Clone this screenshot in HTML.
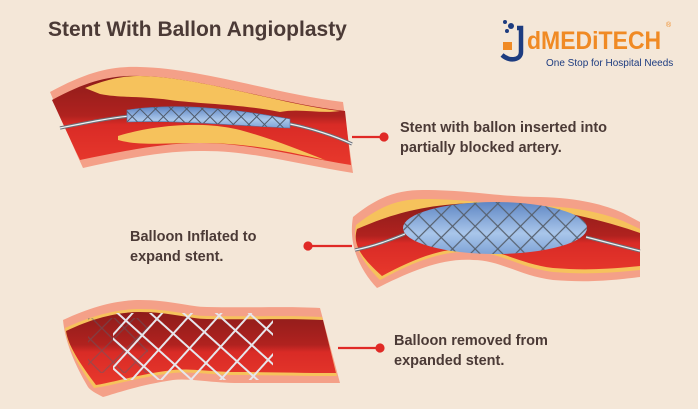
<!DOCTYPE html>
<html><head><meta charset="utf-8"><style>
body{margin:0;width:698px;height:409px;background:#f4e7d8;overflow:hidden;font-family:"Liberation Sans",sans-serif}
.t{position:absolute;color:#4b3a36;font-weight:bold}
</style></head><body>
<svg width="698" height="409" style="position:absolute;left:0;top:0">
<defs>
<pattern id="m1" width="11" height="11" patternUnits="userSpaceOnUse" patternTransform="rotate(45)"><rect width="11" height="11" fill="none" stroke="#4f5a6a" stroke-width="1"/></pattern>
<pattern id="m2" width="16" height="16" patternUnits="userSpaceOnUse" patternTransform="rotate(45)"><rect width="16" height="16" fill="none" stroke="#56606e" stroke-width="1.2"/></pattern>
<pattern id="m3" width="22" height="22" patternUnits="userSpaceOnUse" patternTransform="rotate(42)"><rect width="22" height="22" fill="none" stroke="#e6e6ec" stroke-width="2"/></pattern>
<linearGradient id="bl" x1="0" y1="0" x2="0" y2="1"><stop offset="0" stop-color="#5f86c4"/><stop offset="0.6" stop-color="#a9c6ea"/><stop offset="1" stop-color="#7fa3d6"/></linearGradient>
<linearGradient id="lum" x1="0" y1="0" x2="0" y2="1"><stop offset="0" stop-color="#8e1c1a"/><stop offset="0.45" stop-color="#b0221f"/><stop offset="0.55" stop-color="#d92b26"/><stop offset="1" stop-color="#e8382c"/></linearGradient>
</defs>
<!-- vessel 1 -->
<path d="M50,92 C90,70 115,66 140,67 C200,68 280,95 343,102 L353,173 C300,165 250,150 200,151 C160,151 120,160 83,168 C70,140 60,115 50,92 Z" fill="#f4a088"/>
<path d="M52,100 C90,79 115,75 140,76 C200,77 280,104 345,111 L351,165 C300,157 250,143 200,143 C160,143 120,152 80,160 C68,135 60,117 52,100 Z" fill="url(#lum)"/>
<path d="M85,88 C110,78 125,76 140,76 C200,77 280,104 340,111 C320,114 300,108 280,112 C240,104 200,104 170,100 C140,96 120,98 100,94 Z" fill="#f6c25c"/>
<path d="M118,136 C150,126 200,120 240,130 C270,138 300,150 325,160 C290,152 250,143 200,143 C160,143 140,146 118,140 Z" fill="#f6c25c"/>
<path d="M60,128 C90,122 110,118 130,116 M290,124 C310,128 335,136 352,144" fill="none" stroke="#6c7078" stroke-width="3.2"/>
<path d="M60,128 C90,122 110,118 130,116 M290,124 C310,128 335,136 352,144" fill="none" stroke="#f0f0f2" stroke-width="1.2"/>
<path d="M127,110 C180,102 240,110 290,119 L290,128 C240,126 180,120 127,122 Z" fill="url(#bl)" stroke="#5577aa" stroke-width="0.6"/>
<path d="M127,110 C180,102 240,110 290,119 L290,128 C240,126 180,120 127,122 Z" fill="url(#m1)"/>
<!-- vessel 2 -->
<path d="M353,217 C380,195 400,190 423,190 C470,190 500,197 540,197 C580,198 605,205 623,213 L640,222 L640,277 C600,282 580,282 553,280 C520,276 500,260 473,260 C440,258 410,272 377,288 C360,270 348,245 353,217 Z" fill="#f4a088"/>
<path d="M356,225 C382,204 402,199 423,199 C470,199 500,206 540,206 C580,207 605,214 623,221 L640,229 L640,270 C600,274 580,274 553,272 C520,268 500,252 473,252 C440,250 410,264 380,280 C362,262 352,245 356,225 Z" fill="#f6c25c"/>
<path d="M357,229 C390,215 420,205 473,203 C520,204 580,212 640,233 L640,266 C600,270 580,270 553,268 C520,264 500,249 473,249 C440,247 410,261 382,276 C362,258 352,245 357,229 Z" fill="url(#lum)"/>
<path d="M353,262 C400,252 440,250 473,250 C520,250 600,256 640,258 L640,266 C600,270 580,270 553,268 C520,264 500,252 473,252 C440,250 410,264 382,276 C370,270 360,266 353,262 Z" fill="#f6c25c" opacity="0"/>
<path d="M355,250 C375,246 390,240 405,234 M586,237 C605,242 625,247 640,251" fill="none" stroke="#6c7078" stroke-width="3.2"/>
<path d="M355,250 C375,246 390,240 405,234 M586,237 C605,242 625,247 640,251" fill="none" stroke="#f0f0f2" stroke-width="1.2"/>
<ellipse cx="495" cy="228" rx="92" ry="26" fill="url(#bl)"/>
<ellipse cx="495" cy="228" rx="92" ry="26" fill="url(#m2)"/>
<!-- vessel 3 -->
<path d="M63,320 C95,305 120,300 140,300 C170,300 190,307 207,307 C250,308 290,306 320,308 L340,383 C300,383 270,383 240,383 C210,383 190,378 173,380 C140,385 120,392 103,397 C95,393 90,390 88,387 C75,365 65,342 63,320 Z" fill="#f4a088"/>
<path d="M65,328 C95,314 120,309 140,309 C170,309 190,316 207,316 C250,317 290,315 322,317 L337,376 C300,376 270,375 240,375 C210,375 190,371 173,373 C140,377 115,385 94,388 C79,367 67,346 65,328 Z" fill="#f6c25c"/>
<path d="M66,331 C95,317 120,312 140,312 C170,312 190,319 207,319 C250,320 290,318 323,320 L336,373 C300,373 270,372 240,372 C210,372 190,368 173,370 C140,374 115,382 96,385 C81,365 68,346 66,331 Z" fill="url(#lum)"/>
<rect x="88" y="318" width="60" height="55" fill="url(#m2)" opacity="0.5"/>
<path d="M113,313 L273,313 L273,380 L113,380 Z" fill="url(#m3)"/>
<!-- leaders -->
<g stroke="#e02a26" stroke-width="2.2" fill="#e02a26">
<line x1="352" y1="137" x2="384" y2="137"/><circle cx="384" cy="137" r="3.5"/>
<line x1="308" y1="246" x2="352" y2="246"/><circle cx="308" cy="246" r="3.5"/>
<line x1="338" y1="348" x2="380" y2="348"/><circle cx="380" cy="348" r="3.5"/>
</g>
<!-- logo J -->
<circle cx="505" cy="22" r="2" fill="#1d3c80"/><circle cx="511" cy="26" r="3" fill="#1d3c80"/><circle cx="507" cy="31" r="2" fill="#1d3c80"/>
<path d="M517,28 L521,28 L521,52 C521,60 510,62 502,55" fill="none" stroke="#1d3c80" stroke-width="4.5"/>
<rect x="503" y="42" width="9" height="8" fill="#f08a24"/>
</svg>
<div class="t" style="left:48px;top:18px;font-size:21px;color:#4b3a36">Stent With Ballon Angioplasty</div>
<div style="position:absolute;left:527px;top:27px;font-size:25px;font-weight:bold;color:#f08a24;transform:scaleX(0.92);transform-origin:left">dMEDiTECH</div>
<div style="position:absolute;left:666px;top:22px;font-size:7px;color:#f08a24">®</div>
<div style="position:absolute;left:546px;top:58px;font-size:10px;color:#1d3c80">One Stop for Hospital Needs</div>
<div class="t" style="left:400px;top:118px;font-size:14.5px;line-height:20px">Stent with ballon inserted into<br>partially blocked artery.</div>
<div class="t" style="left:130px;top:227px;font-size:14.5px;line-height:20px">Balloon Inflated to<br>expand stent.</div>
<div class="t" style="left:394px;top:331px;font-size:14.5px;line-height:20px">Balloon removed from<br>expanded stent.</div>
</body></html>
